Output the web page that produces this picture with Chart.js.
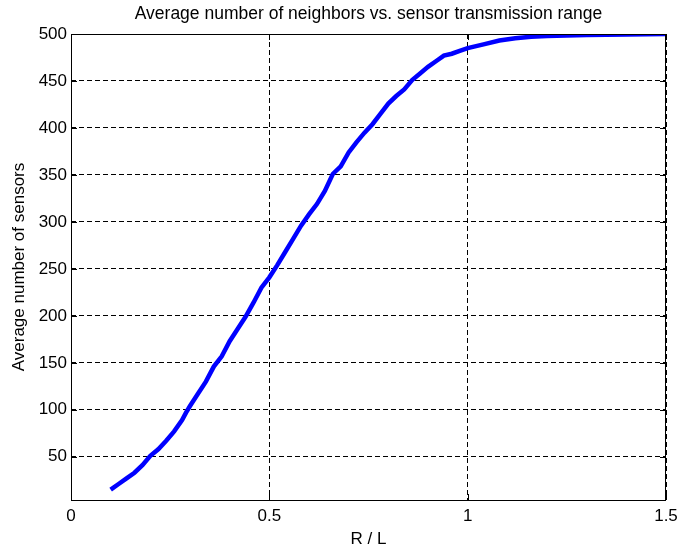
<!DOCTYPE html>
<html>
<head>
<meta charset="utf-8">
<script src="https://cdn.jsdelivr.net/npm/chart.js@4/dist/chart.umd.min.js"></script>
<style>
  html, body { margin: 0; padding: 0; background: #fff; }
  #wrap { width: 679px; height: 550px; }
</style>
</head>
<body>
<div id="wrap"><canvas id="chart" width="679" height="550"></canvas></div>
<script>
// R / L values and average neighbour counts
const rValues = [0.10, 0.12, 0.14, 0.16, 0.18, 0.20, 0.22, 0.24, 0.26, 0.28, 0.29, 0.30,
  0.32, 0.34, 0.36, 0.38, 0.40, 0.42, 0.44, 0.46, 0.48, 0.50, 0.52, 0.54, 0.56, 0.58,
  0.60, 0.62, 0.64, 0.66, 0.68, 0.70, 0.72, 0.74, 0.76, 0.78, 0.80, 0.82, 0.84, 0.86,
  0.88, 0.90, 0.92, 0.94, 0.96, 0.98, 1.00, 1.04, 1.08, 1.12, 1.16, 1.20, 1.25, 1.30,
  1.40, 1.50];
const avgSensors = [15, 21, 27, 33, 41, 51, 58, 67, 77, 89, 97, 104,
  117, 130, 146, 157, 173, 186, 199, 214, 230, 241, 254, 268, 282, 296,
  308, 319, 333, 351, 359, 374, 385, 395, 404, 415, 426, 434, 441, 451,
  458, 465, 471, 477, 479, 482, 485, 489, 493, 495.5, 497, 498, 498.5, 499,
  499.5, 500];

const xTicks = [0, 0.5, 1, 1.5];
const yTicks = [50, 100, 150, 200, 250, 300, 350, 400, 450, 500];

const FONT = 'Liberation Sans, Arial, sans-serif';

// frame round the plot + inward tick marks, matlab style
const framePlugin = {
  id: 'frame',
  afterDraw(chart) {
    const { ctx, chartArea: a, scales } = chart;
    ctx.save();
    ctx.strokeStyle = '#000';
    ctx.lineWidth = 1;
    ctx.setLineDash([]);
    ctx.strokeRect(a.left + 0.5, a.top + 0.5, a.right - a.left - 1, a.bottom - a.top);
    ctx.beginPath();
    xTicks.forEach(v => {
      const px = Math.round(scales.x.getPixelForValue(v)) + 0.5;
      ctx.moveTo(px, a.bottom); ctx.lineTo(px, a.bottom - 6);
      ctx.moveTo(px, a.top); ctx.lineTo(px, a.top + 6);
    });
    yTicks.forEach(v => {
      const py = Math.round(scales.y.getPixelForValue(v)) + 0.5;
      ctx.moveTo(a.left, py); ctx.lineTo(a.left + 6, py);
      ctx.moveTo(a.right, py); ctx.lineTo(a.right - 6, py);
    });
    ctx.stroke();
    ctx.restore();
  }
};

const ctx = document.getElementById('chart').getContext('2d');
new Chart(ctx, {
  type: 'line',
  data: {
    datasets: [{
      data: rValues.map((r, i) => ({ x: r, y: avgSensors[i] })),
      borderColor: '#0000ff',
      borderWidth: 4.5,
      pointRadius: 0,
      tension: 0,
      fill: false
    }]
  },
  options: {
    responsive: false,
    animation: false,
    layout: { padding: { left: 0, right: 13, top: 0, bottom: 0 } },
    plugins: {
      legend: { display: false },
      tooltip: { enabled: false },
      title: {
        display: true,
        fullSize: false,
        text: 'Average number of neighbors vs. sensor transmission range',
        color: '#000',
        font: { family: FONT, size: 17.5, weight: 'normal', lineHeight: 1.2 },
        padding: { top: 4, bottom: 9 }
      }
    },
    scales: {
      x: {
        type: 'linear',
        min: 0,
        max: 1.5,
        afterBuildTicks: s => { s.ticks = xTicks.map(v => ({ value: v })); },
        afterFit: s => { s.height = 50; s.paddingLeft = 0; s.paddingRight = 0; },
        grid: { color: '#000', lineWidth: 1, drawTicks: false },
        border: { display: false, dash: [5, 3] },
        ticks: {
          color: '#000', padding: 6,
          font: { family: FONT, size: 17 },
          callback: v => String(v)
        },
        title: {
          display: true, text: 'R / L', color: '#000',
          font: { family: FONT, size: 17 },
          padding: { top: 0, bottom: 0 }
        }
      },
      y: {
        min: 4,
        max: 500,
        afterBuildTicks: s => { s.ticks = yTicks.map(v => ({ value: v })); },
        afterFit: s => { s.width = 71; },
        grid: { color: '#000', lineWidth: 1, drawTicks: false },
        border: { display: false, dash: [5, 3] },
        ticks: {
          color: '#000', padding: 4,
          font: { family: FONT, size: 17 }
        },
        title: {
          display: true, text: 'Average number of sensors', color: '#000',
          font: { family: FONT, size: 17 },
          padding: { top: 9.5, bottom: 0 }
        }
      }
    }
  },
  plugins: [framePlugin]
});
</script>
</body>
</html>
